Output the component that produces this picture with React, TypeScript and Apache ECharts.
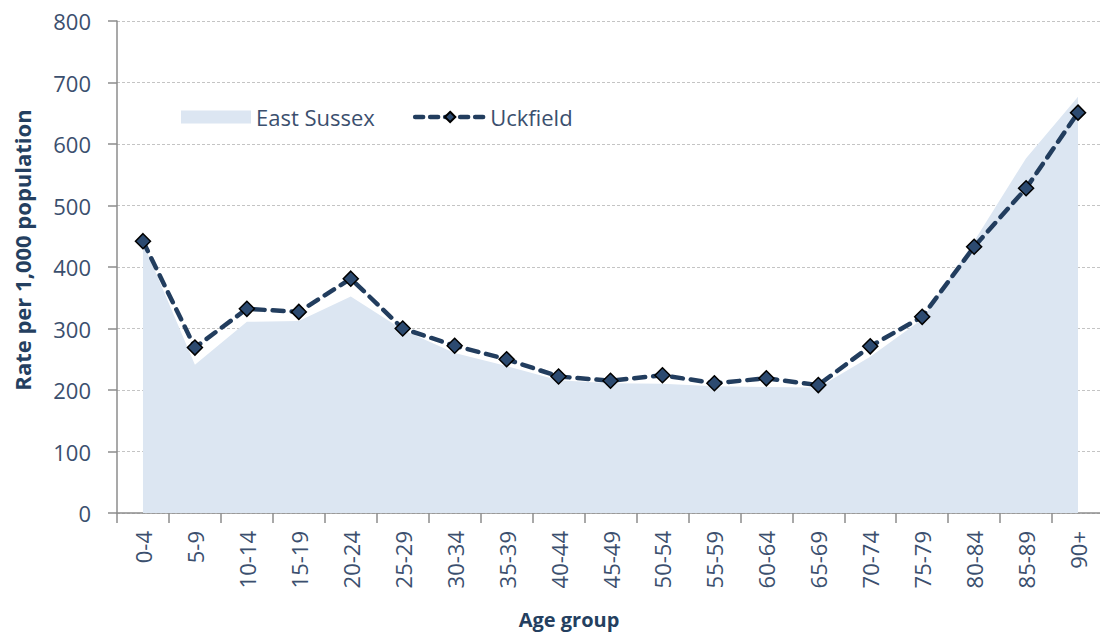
import React, { useEffect, useRef } from "react";
import * as echarts from "echarts";

const categories = ["0-4", "5-9", "10-14", "15-19", "20-24", "25-29", "30-34", "35-39", "40-44", "45-49", "50-54", "55-59", "60-64", "65-69", "70-74", "75-79", "80-84", "85-89", "90+"];
const eastSussex = [440, 241, 311, 312, 352, 298, 260, 239, 216, 211, 210, 206, 205, 204, 254, 315, 442, 577, 677];
const uckfield = [442, 269, 332, 327, 381, 300, 272, 250, 222, 215, 224, 211, 219, 208, 271, 319, 433, 528, 651];
const yTicks = [0, 100, 200, 300, 400, 500, 600, 700, 800];

const FONT = "'Open Sans', 'Noto Sans', sans-serif";
const TICK_COLOR = "#3b4f6e";
const TITLE_COLOR = "#243f60";
const AXIS_COLOR = "#8c8c8c";

export default function App() {
  const ref = useRef<HTMLDivElement>(null);
  useEffect(() => {
    if (!ref.current) return;
    const chart = echarts.init(ref.current, undefined, { renderer: "svg" });
    chart.setOption({
      animation: false,
      backgroundColor: "#ffffff",
      textStyle: { fontFamily: FONT },
      grid: { left: 117, right: 0, top: 21, bottom: 121, containLabel: false },
      legend: {
        left: 176,
        top: 101,
        itemWidth: 70,
        itemHeight: 13,
        itemGap: 38,
        textStyle: { fontFamily: FONT, fontSize: 22, color: TICK_COLOR },
        data: [
          { name: "East Sussex", icon: "rect", itemStyle: { color: "#dce6f2", borderWidth: 0 } },
          { name: "Uckfield", lineStyle: { width: 4.5, type: [8, 7], cap: "round", color: "#223d5e" } },
        ],
      },
      graphic: [
        {
          type: "text",
          x: 569,
          y: 619,
          style: { text: "Age group", fontFamily: FONT, fontSize: 20, fontWeight: "bold", fill: TITLE_COLOR, textAlign: "center", textVerticalAlign: "middle" },
        },
        {
          type: "text",
          x: 22,
          y: 250,
          rotation: Math.PI / 2,
          style: { text: "Rate per 1,000 population", fontFamily: FONT, fontSize: 22, fontWeight: "bold", fill: TITLE_COLOR, textAlign: "center", textVerticalAlign: "middle" },
        },
      ],
      xAxis: {
        type: "category",
        data: categories,
        boundaryGap: true,
        axisLine: { lineStyle: { color: AXIS_COLOR, width: 1.5 } },
        axisTick: { show: true, length: 10, alignWithLabel: false, interval: 0, lineStyle: { color: AXIS_COLOR, width: 1.5 } },
        axisLabel: { rotate: 90, margin: 18, interval: 0, fontFamily: FONT, fontSize: 22, color: TICK_COLOR },
        splitLine: { show: false },
      },
      yAxis: {
        type: "value",
        min: yTicks[0],
        max: yTicks[yTicks.length - 1],
        interval: 100,
        axisLine: { show: true, lineStyle: { color: AXIS_COLOR, width: 1.5 } },
        axisTick: { show: true, length: 9, lineStyle: { color: AXIS_COLOR, width: 1.5 } },
        axisLabel: { margin: 26, fontFamily: FONT, fontSize: 22, color: TICK_COLOR },
        splitLine: { show: true, lineStyle: { color: "#c4c4c4", type: [3, 2], width: 1 } },
      },
      series: [
        {
          name: "East Sussex",
          type: "line",
          data: eastSussex,
          showSymbol: false,
          symbol: "none",
          lineStyle: { width: 0, color: "#dce6f2" },
          itemStyle: { color: "#dce6f2" },
          areaStyle: { color: "#dce6f2", opacity: 1 },
          z: 1,
        },
        {
          name: "Uckfield",
          type: "line",
          data: uckfield,
          symbol: "diamond",
          symbolSize: 15,
          lineStyle: { color: "#223d5e", width: 4.5, type: [11, 8], cap: "round" },
          itemStyle: { color: "#2c4a70", borderColor: "#000000", borderWidth: 1.5 },
          z: 3,
        },
      ],
    });
    return () => chart.dispose();
  }, []);
  return (
    <div style={{ position: "absolute", left: 0, top: 0, width: 1100, height: 634, overflow: "hidden", background: "#fff" }}>
      <div ref={ref} style={{ width: 1104, height: 634 }} />
    </div>
  );
}
